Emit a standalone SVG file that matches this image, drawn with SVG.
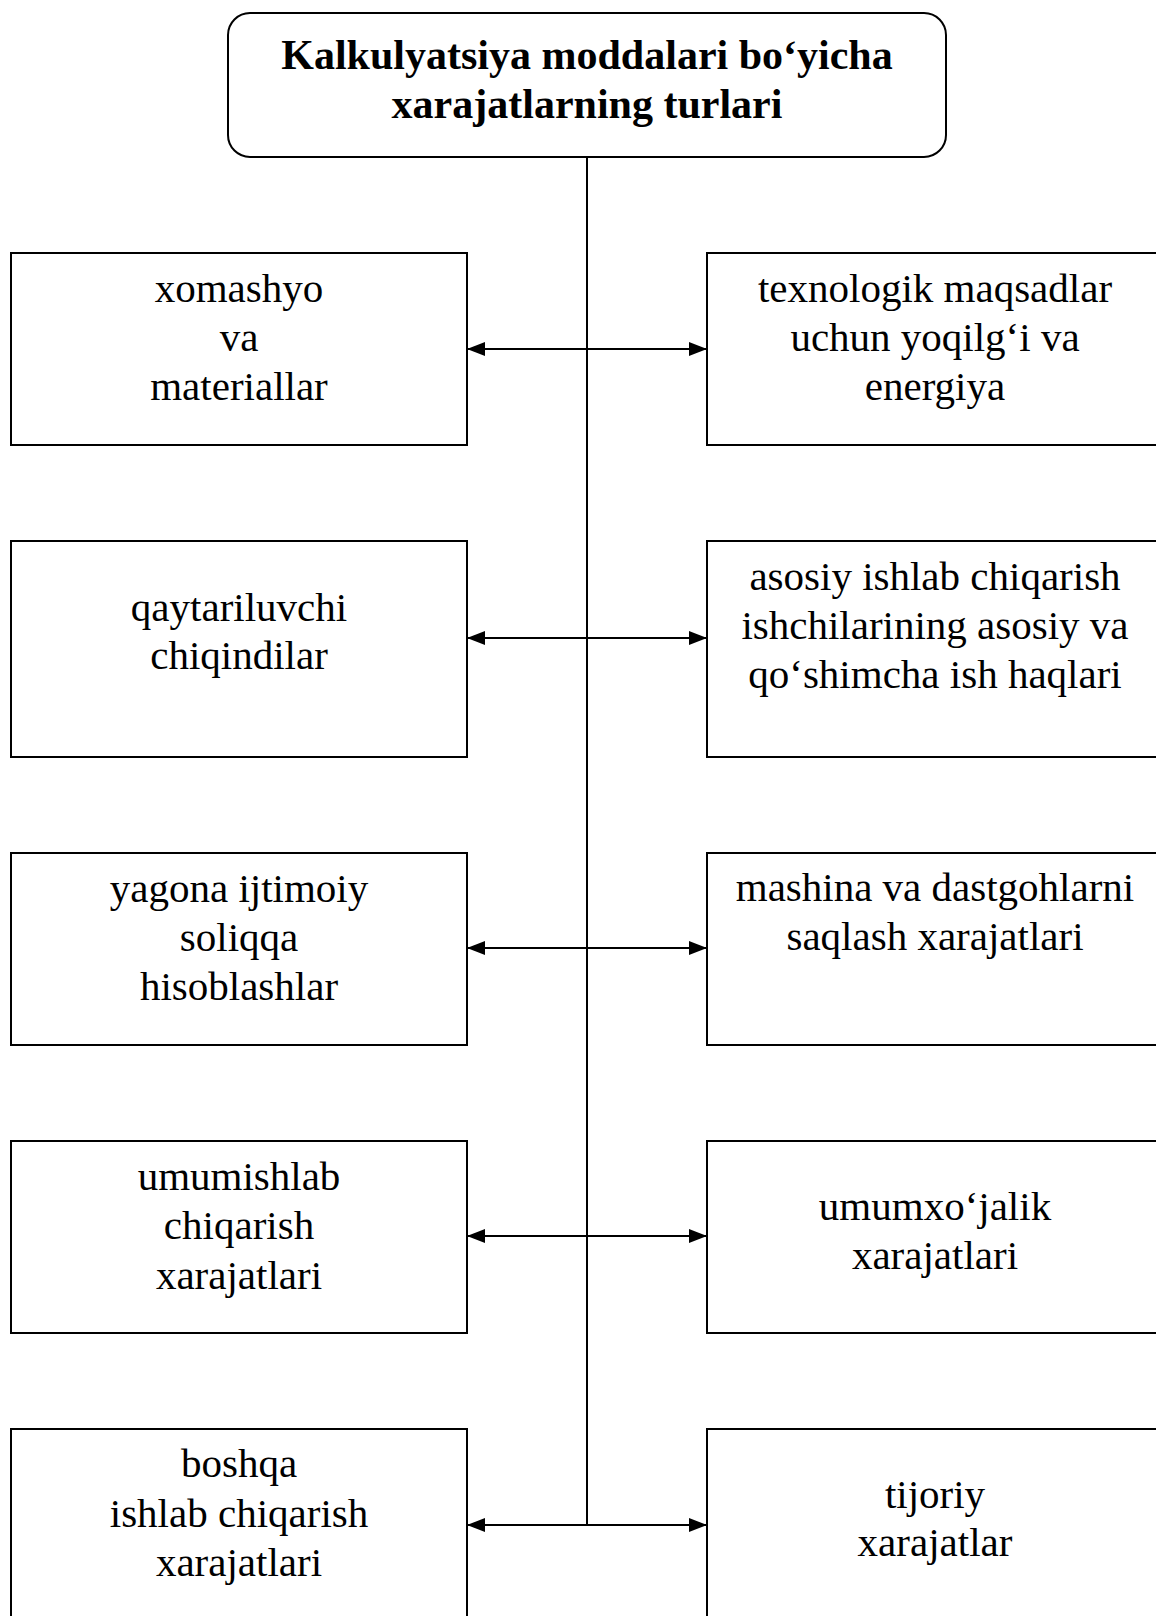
<svg xmlns="http://www.w3.org/2000/svg" width="1156" height="1616" viewBox="0 0 1156 1616">
<style>
.box{fill:#fff;stroke:#000;stroke-width:2}
.t{font-family:"Liberation Serif","Times New Roman",serif;font-size:41px;fill:#000;text-anchor:middle}
.h{font-family:"Liberation Serif","Times New Roman",serif;font-size:42px;font-weight:bold;fill:#000;text-anchor:middle}
.c{stroke:#000;stroke-width:2;fill:none}
</style>
<defs>
<marker id="ah" markerWidth="18" markerHeight="14" refX="17" refY="7" orient="auto-start-reverse" markerUnits="userSpaceOnUse">
<path d="M0,0 L18,7 L0,14 Z" fill="#000"/>
</marker>
</defs>
<rect width="1156" height="1616" fill="#fff"/>
<g id="connectors">
<line class="c" x1="587" y1="157" x2="587" y2="1525"/>
<line class="c" x1="468" y1="349" x2="706" y2="349" marker-start="url(#ah)" marker-end="url(#ah)"/>
<line class="c" x1="468" y1="638" x2="706" y2="638" marker-start="url(#ah)" marker-end="url(#ah)"/>
<line class="c" x1="468" y1="948" x2="706" y2="948" marker-start="url(#ah)" marker-end="url(#ah)"/>
<line class="c" x1="468" y1="1236" x2="706" y2="1236" marker-start="url(#ah)" marker-end="url(#ah)"/>
<line class="c" x1="468" y1="1525" x2="706" y2="1525" marker-start="url(#ah)" marker-end="url(#ah)"/>
</g>
<g id="title">
<rect class="box" x="228" y="13" width="718" height="144" rx="22"/>
<text class="h" x="587" y="69">Kalkulyatsiya moddalari bo‘yicha</text>
<text class="h" x="587" y="118">xarajatlarning turlari</text>
</g>
<g id="n1">
<rect class="box" x="11" y="253" width="456" height="192"/>
<text class="t" x="239" y="302">xomashyo</text>
<text class="t" x="239" y="351">va</text>
<text class="t" x="239" y="400">materiallar</text>
</g>
<g id="n2">
<rect class="box" x="707" y="253" width="460" height="192"/>
<text class="t" x="935" y="302">texnologik maqsadlar</text>
<text class="t" x="935" y="351">uchun yoqilg‘i va</text>
<text class="t" x="935" y="400">energiya</text>
</g>
<g id="n3">
<rect class="box" x="11" y="541" width="456" height="216"/>
<text class="t" x="239" y="621">qaytariluvchi</text>
<text class="t" x="239" y="669">chiqindilar</text>
</g>
<g id="n4">
<rect class="box" x="707" y="541" width="460" height="216"/>
<text class="t" x="935" y="590">asosiy ishlab chiqarish</text>
<text class="t" x="935" y="639">ishchilarining asosiy va</text>
<text class="t" x="935" y="688">qo‘shimcha ish haqlari</text>
</g>
<g id="n5">
<rect class="box" x="11" y="853" width="456" height="192"/>
<text class="t" x="239" y="902">yagona ijtimoiy</text>
<text class="t" x="239" y="951">soliqqa</text>
<text class="t" x="239" y="1000">hisoblashlar</text>
</g>
<g id="n6">
<rect class="box" x="707" y="853" width="460" height="192"/>
<text class="t" x="935" y="901">mashina va dastgohlarni</text>
<text class="t" x="935" y="950">saqlash xarajatlari</text>
</g>
<g id="n7">
<rect class="box" x="11" y="1141" width="456" height="192"/>
<text class="t" x="239" y="1190">umumishlab</text>
<text class="t" x="239" y="1239">chiqarish</text>
<text class="t" x="239" y="1289">xarajatlari</text>
</g>
<g id="n8">
<rect class="box" x="707" y="1141" width="460" height="192"/>
<text class="t" x="935" y="1220">umumxo‘jalik</text>
<text class="t" x="935" y="1269">xarajatlari</text>
</g>
<g id="n9">
<rect class="box" x="11" y="1429" width="456" height="200"/>
<text class="t" x="239" y="1477">boshqa</text>
<text class="t" x="239" y="1527">ishlab chiqarish</text>
<text class="t" x="239" y="1576">xarajatlari</text>
</g>
<g id="n10">
<rect class="box" x="707" y="1429" width="460" height="200"/>
<text class="t" x="935" y="1508">tijoriy</text>
<text class="t" x="935" y="1556">xarajatlar</text>
</g>
</svg>
